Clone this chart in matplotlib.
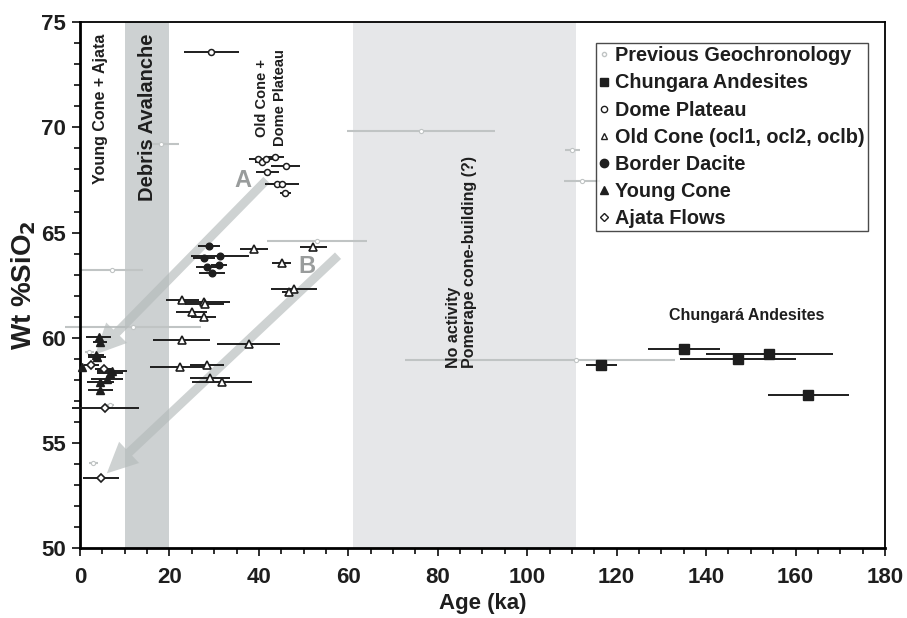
import matplotlib
matplotlib.use("Agg")
import matplotlib.pyplot as plt
from matplotlib.lines import Line2D
from matplotlib.ticker import MultipleLocator

plt.rcParams['font.family'] = ['Liberation Sans', 'DejaVu Sans']
plt.rcParams['font.weight'] = 'bold'
plt.rcParams['axes.labelweight'] = 'bold'

# Previous geochronology (age, SiO2, left/right age error)
prev_age = [7.2, 18.1, 11.9, 2.1, 3.0, 6.7, 52.9, 76.2, 110.1, 112.2, 110.9]
prev_sio2 = [63.22, 69.21, 60.53, 59.34, 54.03, 56.8, 64.61, 69.83, 68.93, 67.47, 58.94]
prev_lo = [6.9, 4.0, 15.2, 1.0, 1.0, 1.0, 11.0, 16.6, 1.7, 4.0, 38.2]
prev_hi = [6.9, 4.0, 15.2, 1.0, 1.0, 1.0, 11.2, 16.6, 1.7, 4.0, 22.1]

# Chungara Andesites
ch_age = [116.6, 135.1, 147.1, 154.1, 162.9]
ch_sio2 = [58.70, 59.48, 58.97, 59.23, 57.28]
ch_err = [3.5, 8.1, 13.0, 14.2, 9.0]

# Dome Plateau
dp_age = [29.4, 39.7, 40.6, 41.7, 43.7, 46.0, 41.9, 44.1, 45.2, 45.9]
dp_sio2 = [73.57, 68.49, 68.36, 68.49, 68.60, 68.18, 67.87, 67.30, 67.30, 66.87]
dp_err = [6.2, 2.0, 1.5, 2.0, 2.0, 3.2, 2.5, 2.0, 3.8, 1.2]

# Old Cone
oc_age = [38.9, 52.2, 45.1, 47.9, 46.7, 22.9, 27.7, 27.9, 25.0, 27.7,
          22.7, 37.7, 22.4, 28.3, 29.1, 31.8]
oc_sio2 = [64.21, 64.30, 63.57, 62.30, 62.19, 61.80, 61.69, 61.60, 61.21, 60.97,
           59.89, 59.69, 58.59, 58.69, 58.07, 57.88]
oc_err = [3.2, 3.0, 2.1, 5.1, 1.5, 3.6, 5.8, 4.4, 3.5, 2.8,
          6.4, 7.0, 6.7, 3.8, 4.5, 6.7]

# Border Dacite
bd_age = [28.8, 27.7, 31.3, 28.4, 31.1, 29.6]
bd_sio2 = [64.36, 63.78, 63.87, 63.38, 63.47, 63.06]
bd_err = [2.5, 2.5, 6.4, 2.5, 1.7, 2.9]

# Young Cone
yc_age = [4.2, 4.5, 3.6, 3.8, 0.4, 7.1, 6.7, 6.0, 4.5, 4.5]
yc_sio2 = [60.05, 59.81, 59.18, 59.10, 58.6, 58.43, 58.34, 58.04, 57.91, 57.52]
yc_err = [2.8, 1.5, 1.7, 2.0, 0.0, 3.4, 3.0, 3.6, 3.0, 2.8]

# Ajata Flows
aj_age = [2.5, 5.4, 5.7, 4.7]
aj_sio2 = [58.70, 58.51, 56.67, 53.32]
aj_err = [1.7, 2.0, 7.6, 4.1]

# shaded age intervals
debris_band = (10, 20)
pomerape_band = (61, 111)

# trend arrows (tail, tip)
arrow_a = [(41.7, 67.5), (3.4, 59.2)]
arrow_b = [(57.7, 63.9), (6.0, 53.55)]

xticks = list(range(0, 181, 20))
yticks = list(range(50, 76, 5))

fig = plt.figure(figsize=(9.07, 6.18), dpi=100)
ax = fig.add_axes([0.0882, 0.1133, 0.8875, 0.8506])

ax.axvspan(*debris_band, color='#cdd1d2', lw=0, zorder=0)
ax.axvspan(*pomerape_band, color='#e6e7e9', lw=0, zorder=0)

ink = '#1e1e1e'
ax.errorbar(prev_age, prev_sio2, xerr=[prev_lo, prev_hi], fmt='o', ms=3,
            mfc='white', mec='#c0c4c4', mew=0.8, ecolor='#c0c4c4', elinewidth=1.5,
            capsize=0, zorder=2, clip_on=False)

for tail, tip in [arrow_a, arrow_b]:
    ax.annotate('', xy=tip, xytext=tail,
                arrowprops=dict(arrowstyle='simple,head_length=1.1,head_width=1.05,tail_width=0.32',
                                fc='#b4baba', ec='none', alpha=0.65, mutation_scale=20,
                                shrinkA=0, shrinkB=0), zorder=3)

common = dict(ecolor=ink, elinewidth=1.4, capsize=0, mec=ink, zorder=4, clip_on=False)
ax.errorbar(ch_age, ch_sio2, xerr=ch_err, fmt='s', ms=6.5, mfc=ink, **common)
ax.errorbar(dp_age, dp_sio2, xerr=dp_err, fmt='o', ms=4.3, mfc='white', mew=1.1, **common)
ax.errorbar(oc_age, oc_sio2, xerr=oc_err, fmt='^', ms=5.5, mfc='white', mew=1.2, **common)
ax.errorbar(bd_age, bd_sio2, xerr=bd_err, fmt='o', ms=4.8, mfc=ink, **common)
ax.errorbar(yc_age, yc_sio2, xerr=yc_err, fmt='^', ms=6, mfc=ink, **common)
ax.errorbar(aj_age, aj_sio2, xerr=aj_err, fmt='D', ms=4, mfc='white', mew=1.2, **common)

ax.text(36.5, 67.5, 'A', fontsize=17, color='#999c9c', ha='center', va='center', zorder=5)
ax.text(50.7, 63.4, 'B', fontsize=17, color='#999c9c', ha='center', va='center', zorder=5)

ax.text(4.5, 70.9, 'Young Cone + Ajata', rotation=90, fontsize=11.5, ha='center', va='center', color=ink)
ax.text(15.1, 70.5, 'Debris Avalanche', rotation=90, fontsize=14.5, ha='center', va='center', color=ink)
ax.text(42.7, 71.4, 'Old Cone +\nDome Plateau', rotation=90, fontsize=10.5, ha='center', va='center',
        color=ink, linespacing=1.3)
ax.text(85.3, 58.56, 'No activity\nPomerape cone-building (?)', rotation=90, fontsize=11.5,
        ha='center', va='bottom', multialignment='left', color=ink, linespacing=1.15)
ax.text(149.1, 61.08, 'Chungará Andesites', fontsize=11.5, ha='center', va='center', color=ink)

ax.set_xlim(0, 180)
ax.set_ylim(50, 75)
ax.set_xticks(xticks)
ax.set_yticks(yticks)
ax.xaxis.set_minor_locator(MultipleLocator(5))
ax.yaxis.set_minor_locator(MultipleLocator(1))
ax.tick_params(which='both', direction='out', width=1.3, colors=ink)
ax.tick_params(which='major', length=6, labelsize=16)
ax.tick_params(which='minor', length=4)
ax.tick_params(axis='x', which='major', pad=8)
ax.tick_params(axis='y', which='major', pad=4)
for side in ['left', 'bottom']:
    ax.spines[side].set_linewidth(2)
for side in ['top', 'right']:
    ax.spines[side].set_linewidth(1.3)

ax.set_xlabel('Age (ka)', fontsize=16, fontweight='bold', labelpad=3, color=ink)
ax.set_ylabel('Wt %SiO$_\\mathbf{2}$', fontsize=20, fontweight='bold', labelpad=2, color=ink)

handles = [
    Line2D([], [], ls='none', marker='o', ms=3, mfc='white', mec='#c0c4c4'),
    Line2D([], [], ls='none', marker='s', ms=6, mfc=ink, mec=ink),
    Line2D([], [], ls='none', marker='o', ms=4.5, mfc='white', mec=ink, mew=1),
    Line2D([], [], ls='none', marker='^', ms=5, mfc='white', mec=ink, mew=1),
    Line2D([], [], ls='none', marker='o', ms=6, mfc=ink, mec=ink),
    Line2D([], [], ls='none', marker='^', ms=6, mfc=ink, mec=ink),
    Line2D([], [], ls='none', marker='D', ms=4, mfc='white', mec=ink, mew=1),
]
labels = ['Previous Geochronology', 'Chungara Andesites', 'Dome Plateau',
          'Old Cone (ocl1, ocl2, oclb)', 'Border Dacite', 'Young Cone', 'Ajata Flows']
leg = ax.legend(handles, labels, loc='upper right', bbox_to_anchor=(0.979, 0.96),
                prop={'size': 14.3, 'weight': 'bold'}, frameon=True, fancybox=False,
                handlelength=0.5, handletextpad=0.35, labelspacing=0.41,
                borderpad=0.15, borderaxespad=0)
leg.get_frame().set_edgecolor(ink)
leg.get_frame().set_linewidth(1)
for t in leg.get_texts():
    t.set_color(ink)

fig.canvas.draw()
for lab in ax.get_xticklabels() + ax.get_yticklabels():
    lab.set_fontweight('bold')

fig.savefig('out.png', dpi=100)
